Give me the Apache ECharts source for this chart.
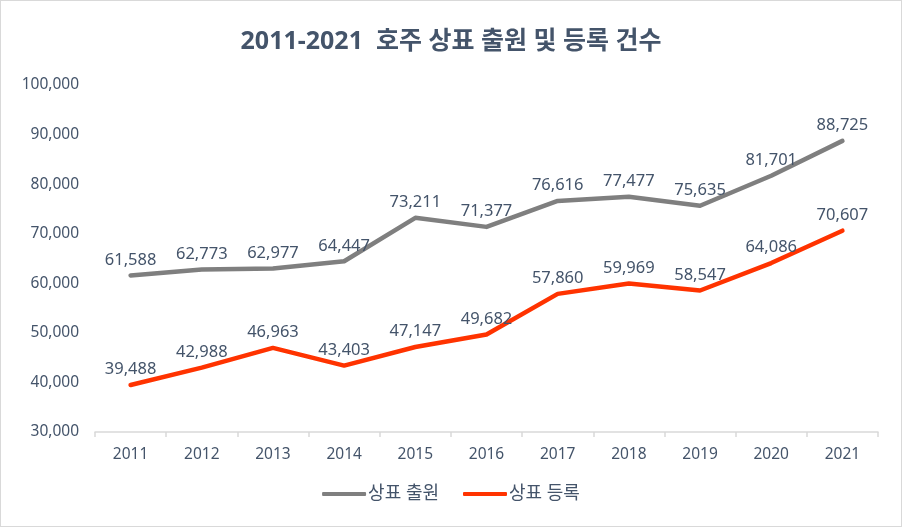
<!DOCTYPE html>
<html>
<head>
<meta charset="utf-8">
<script src="https://cdn.jsdelivr.net/npm/echarts@6/dist/echarts.min.js"></script>
<style>
  html, body { margin: 0; padding: 0; background: #fff; }
  #chart { width: 900px; height: 525px; border: 1px solid #d9d9d9; }
</style>
</head>
<body>
<div id="chart"></div>
<script>
const years = ['2011', '2012', '2013', '2014', '2015', '2016', '2017', '2018', '2019', '2020', '2021'];
const filings = [61588, 62773, 62977, 64447, 73211, 71377, 76616, 77477, 75635, 81701, 88725];
const registrations = [39488, 42988, 46963, 43403, 47147, 49682, 57860, 59969, 58547, 64086, 70607];

const textColor = '#44546a';
const font = '"Noto Sans", "Noto Sans CJK KR", sans-serif';

const chart = echarts.init(document.getElementById('chart'), undefined, { renderer: 'canvas' });

function lineSeries(name, data, color) {
  return {
    name: name,
    type: 'line',
    data: data,
    symbol: 'circle',
    symbolSize: 0,
    showSymbol: true,
    lineStyle: { color: color, width: 4.5, cap: 'round', join: 'round' },
    itemStyle: { color: color },
    label: {
      show: true,
      position: 'top',
      distance: 7,
      color: textColor,
      fontSize: 16.5,
      fontFamily: font,
      formatter: p => p.value.toLocaleString('en-US')
    }
  };
}

chart.setOption({
  animation: false,
  textStyle: { fontFamily: font },
  title: {
    text: '2011-2021  호주 상표 출원 및 등록 건수',
    left: 'center',
    top: 23,
    textStyle: { color: textColor, fontSize: 25, fontWeight: 'bold', fontFamily: font }
  },
  legend: {
    bottom: 18,
    left: 'center',
    itemWidth: 44,
    itemHeight: 4,
    itemGap: 24,
    icon: 'roundRect',
    textStyle: { color: textColor, fontSize: 18, fontFamily: font, padding: [0, 0, 0, -3] },
    data: ['상표 출원', '상표 등록']
  },
  grid: { left: 94, right: 23, top: 84, bottom: 94 },
  xAxis: {
    type: 'category',
    data: years,
    boundaryGap: true,
    axisLine: { lineStyle: { color: '#d9d9d9', width: 1.5 } },
    axisTick: { show: true, length: 5, lineStyle: { color: '#d9d9d9', width: 1.5 } },
    axisLabel: { color: textColor, fontSize: 15.5, margin: 15 }
  },
  yAxis: {
    type: 'value',
    min: 30000,
    max: 100000,
    interval: 10000,
    axisLine: { show: false },
    axisTick: { show: false },
    splitLine: { show: false },
    axisLabel: {
      color: textColor,
      fontSize: 15.5,
      margin: 16,
      formatter: v => v.toLocaleString('en-US')
    }
  },
  series: [
    lineSeries('상표 출원', filings, '#7f7f7f'),
    lineSeries('상표 등록', registrations, '#ff3300')
  ]
});
</script>
</body>
</html>
